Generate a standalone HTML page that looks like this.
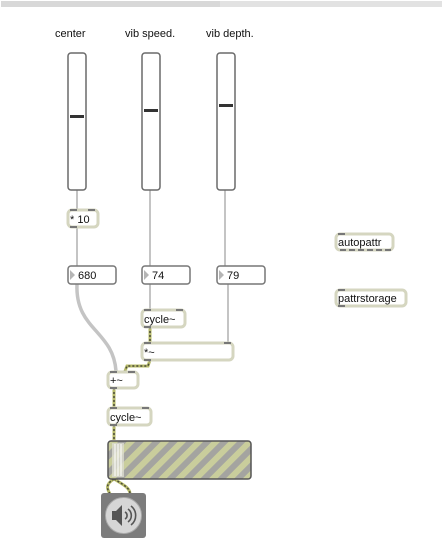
<!DOCTYPE html>
<html><head><meta charset="utf-8"><style>
html,body{margin:0;padding:0;background:#fff;width:443px;height:540px;overflow:hidden}
text{font-family:"Liberation Sans",sans-serif;font-size:11px;fill:#111}
</style></head><body>
<svg width="443" height="540" viewBox="0 0 443 540" xmlns="http://www.w3.org/2000/svg">
<defs>
<pattern id="st" width="12" height="12" patternUnits="userSpaceOnUse" patternTransform="rotate(45)">
<rect width="12" height="12" fill="#c9cd9c"/><rect width="6" height="12" fill="#a4a4a0"/>
</pattern>
</defs>
<rect x="1" y="1" width="441" height="6" fill="#e2e2e2"/>
<rect x="1" y="1" width="219" height="6" fill="#d8d8d8"/>
<!-- labels -->
<text x="55" y="37">center</text>
<text x="125" y="37">vib speed.</text>
<text x="206" y="37">vib depth.</text>
<!-- control cables -->
<g stroke="#c4c4c4" stroke-width="2" fill="none">
<line x1="77" y1="190" x2="77" y2="210"/>
<line x1="77" y1="227" x2="77" y2="266"/>
<line x1="150" y1="190" x2="150" y2="266"/>
<line x1="150" y1="284" x2="150" y2="309"/>
<line x1="225" y1="190" x2="225" y2="266"/>
<line x1="228" y1="284" x2="228" y2="343"/>
<path d="M77 284 C75 330,113 330,116 371" stroke-width="3.5"/>
</g>
<!-- signal cables -->
<g fill="none">
<g stroke="#b7bb6a" stroke-width="3">
<path d="M150 327 L150 343"/>
<path d="M150 360 L148 366 L127 366 L125 371"/>
<path d="M114 388 L114 407"/>
<path d="M114 425 L114 440"/>
<path d="M114 479 C104 485,108 490,110 494"/>
<path d="M114 479 C124 485,130 488,130 494"/>
</g>
<g stroke="#4a4a3a" stroke-width="1.5" stroke-dasharray="2 2">
<path d="M150 327 L150 343"/>
<path d="M150 360 L148 366 L127 366 L125 371"/>
<path d="M114 388 L114 407"/>
<path d="M114 425 L114 440"/>
<path d="M114 479 C104 485,108 490,110 494"/>
<path d="M114 479 C124 485,130 488,130 494"/>
</g>
</g>
<!-- sliders -->
<g fill="#fff" stroke="#6a6a6a" stroke-width="1.5">
<rect x="68" y="53" width="18" height="137" rx="3"/>
<rect x="142" y="53" width="18" height="137" rx="3"/>
<rect x="217" y="53" width="18" height="137" rx="3"/>
</g>
<g fill="#333">
<rect x="70" y="115" width="14" height="3"/>
<rect x="144" y="109" width="14" height="3"/>
<rect x="219" y="104" width="14" height="3"/>
</g>
<!-- object boxes -->
<g fill="#fff" stroke="#d5d6c0" stroke-width="3">
<rect x="68" y="210" width="30" height="17" rx="4"/>
<rect x="142" y="310" width="43" height="17" rx="4"/>
<rect x="142" y="343" width="91" height="17" rx="4"/>
<rect x="108" y="372" width="30" height="16" rx="4"/>
<rect x="108" y="408" width="43" height="17" rx="4"/>
<rect x="336" y="234" width="57" height="16" rx="4"/>
<rect x="336" y="290" width="70" height="16" rx="4"/>
</g>
<!-- inlets/outlets -->
<g fill="#777">
<rect x="70" y="209" width="7" height="2"/><rect x="88" y="209" width="7" height="2"/><rect x="70" y="226" width="7" height="2"/>
<rect x="144" y="309" width="7" height="2"/><rect x="176" y="309" width="7" height="2"/><rect x="144" y="326" width="7" height="2"/>
<rect x="144" y="342" width="7" height="2"/><rect x="224" y="342" width="7" height="2"/><rect x="144" y="359" width="7" height="2"/>
<rect x="110" y="371" width="7" height="2"/><rect x="128" y="371" width="7" height="2"/><rect x="110" y="387" width="7" height="2"/>
<rect x="110" y="407" width="7" height="2"/><rect x="142" y="407" width="7" height="2"/><rect x="110" y="424" width="7" height="2"/>
<rect x="338" y="233" width="7" height="2"/>
<rect x="338" y="289" width="7" height="2"/><rect x="338" y="305" width="7" height="2"/>
</g>
<g stroke="#777" stroke-width="2" stroke-dasharray="6 3"><line x1="340" y1="250" x2="392" y2="250"/></g>
<text x="70" y="223">* 10</text>
<text x="144" y="323">cycle~</text>
<text x="144" y="356">*~</text>
<text x="110" y="384">+~</text>
<text x="110" y="421">cycle~</text>
<text x="338" y="246">autopattr</text>
<text x="338" y="302">pattrstorage</text>
<!-- number boxes -->
<g fill="#fff" stroke="#777" stroke-width="1.5">
<rect x="68" y="266" width="48" height="18" rx="3"/>
<rect x="142" y="266" width="48" height="18" rx="3"/>
<rect x="217" y="266" width="48" height="18" rx="3"/>
</g>
<g fill="#b5b5b5">
<polygon points="70,270 70,280 75,275"/><polygon points="144,270 144,280 149,275"/><polygon points="219,270 219,280 224,275"/>
</g>
<text x="78" y="279">680</text>
<text x="152" y="279">74</text>
<text x="227" y="279">79</text>
<!-- meter -->
<rect x="108" y="441" width="143" height="38" rx="3" fill="url(#st)" stroke="#555" stroke-width="1.5"/>
<rect x="112" y="443" width="12" height="34" fill="#dcdcd0" opacity="0.8"/>
<g stroke="#fff" stroke-width="1"><line x1="115" y1="444" x2="115" y2="476"/><line x1="118" y1="444" x2="118" y2="476"/><line x1="121" y1="444" x2="121" y2="476"/></g>
<!-- speaker -->
<rect x="101" y="493" width="45" height="45" rx="3" fill="#7c7c7c"/>
<circle cx="123.5" cy="515.5" r="18" fill="#d6d6d6" stroke="#aaa"/>
<polygon points="112,511 116,511 122,505 122,526 116,520 112,520" fill="#555"/>
<g fill="none" stroke="#555" stroke-width="1.6">
<path d="M125 512 A4 4 0 0 1 125 519"/><path d="M128 509 A8 8 0 0 1 128 522"/><path d="M131 506 A12 12 0 0 1 131 525"/>
</g>
</svg>
</body></html>
